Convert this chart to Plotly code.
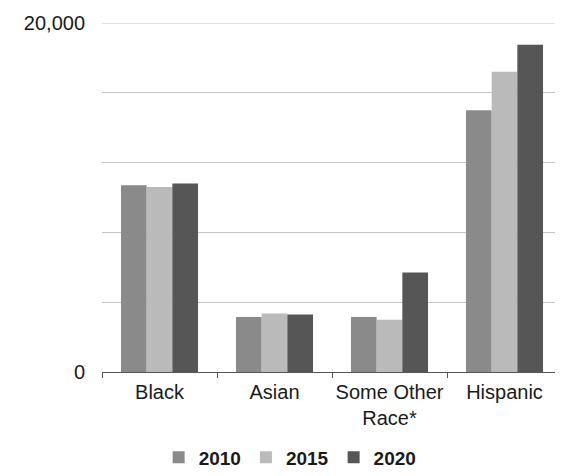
import plotly.graph_objects as go

categories = ["Black", "Asian", "Some Other<br>Race*", "Hispanic"]
years = ["2010", "2015", "2020"]
values_2010 = [10700, 3150, 3150, 15000]
values_2015 = [10600, 3350, 3000, 17200]
values_2020 = [10800, 3300, 5700, 18750]
colors = ["#8a8a8a", "#bababa", "#565656"]
y_tickvals = [0, 4000, 8000, 12000, 16000, 20000]
y_ticktext = ["0", "", "", "", "", "20,000"]

fig = go.Figure()
for yr, vals, c in zip(years, [values_2010, values_2015, values_2020], colors):
    fig.add_trace(go.Bar(name=yr, x=categories, y=vals, marker=dict(color=c, line=dict(width=0))))

# top gridline at the range edge
fig.add_shape(type="line", xref="paper", x0=0, x1=1, yref="y", y0=y_tickvals[-1], y1=y_tickvals[-1],
              line=dict(color="#c4c4c4", width=1), layer="below")

fig.update_layout(
    width=555, height=468,
    margin=dict(l=94, r=1, t=15, b=104, autoexpand=False),
    barmode="group", bargap=0.33, bargroupgap=0,
    plot_bgcolor="white", paper_bgcolor="white",
    font=dict(family="Liberation Sans, Arial, sans-serif", size=20, color="#1a1a1a"),
    showlegend=True,
    legend=dict(orientation="h", x=0.409, xanchor="center", y=-0.245, yanchor="middle",
                font=dict(size=19, color="#1a1a1a", family="Liberation Sans, Arial, sans-serif", weight="bold"),
                itemwidth=30, traceorder="normal"),
)
fig.update_xaxes(showline=True, linecolor="#555", linewidth=1, ticks="outside", tickson="boundaries",
                 ticklen=5, tickcolor="#555", showgrid=False, tickfont=dict(size=20), tickangle=0,
                 ticklabelstandoff=2, automargin=False)
fig.update_yaxes(range=[0, 20000], tickvals=y_tickvals, ticktext=y_ticktext, showgrid=True,
                 gridcolor="#c4c4c4", gridwidth=1, zeroline=False, showline=False,
                 ticks="", ticklabelstandoff=16, tickfont=dict(size=20), automargin=False)

fig.write_html("out.html")
